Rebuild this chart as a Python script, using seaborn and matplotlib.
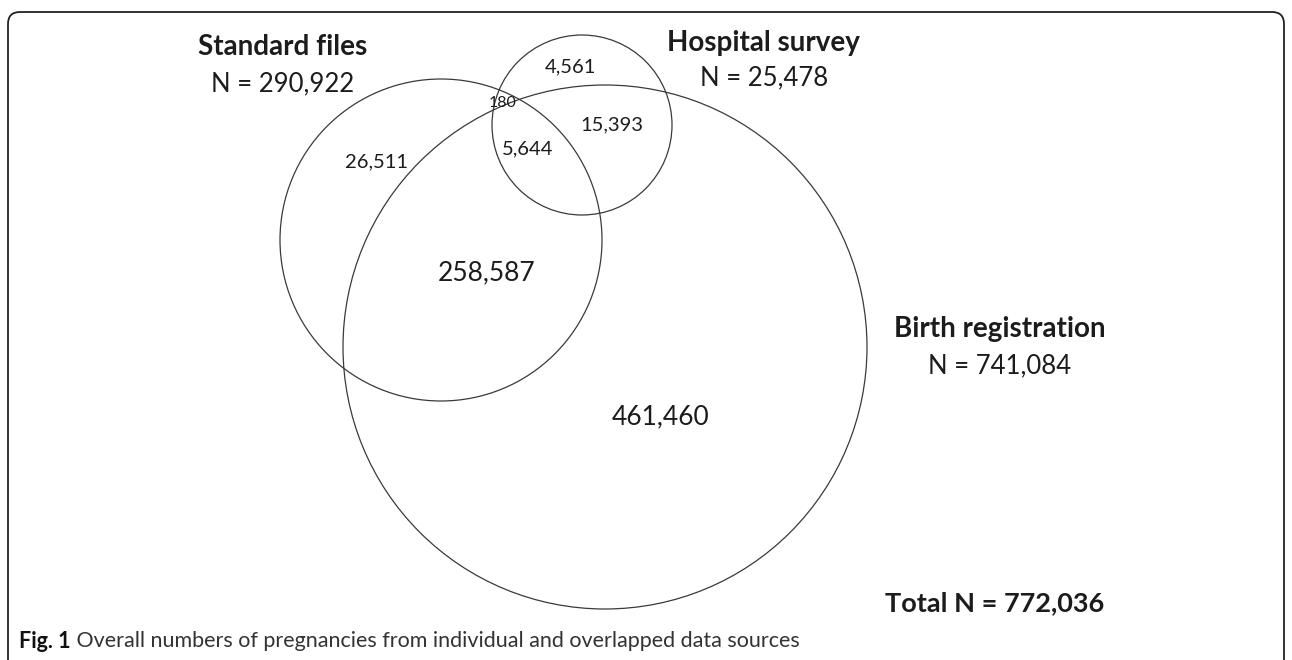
import matplotlib
matplotlib.use("Agg")
import matplotlib.pyplot as plt
from matplotlib.patches import Circle, FancyBboxPatch
import seaborn as sns

# ==================== DATA ====================
set_names = ["Standard files", "Hospital survey", "Birth registration"]
set_totals = [290922, 25478, 741084]

# region counts: only S, only H, only B, S&H, S&B, H&B, all three
region_keys = ["S", "H", "B", "SH", "SB", "HB", "SHB"]
region_counts = [26511, 4561, 461460, 180, 258587, 15393, 5644]

total_n = 772036
caption_bold = "Fig. 1"
caption_text = " Overall numbers of pregnancies from individual and overlapped data sources"

# ==================== LAYOUT (pixels) ====================
circles = {"S": (441, 240, 161), "H": (582, 125, 90), "B": (605, 347, 262)}
name_pos = {"S": (283, 47), "H": (763, 43), "B": (1000, 329)}
n_pos = {"S": (283, 84), "H": (764, 78), "B": (1000, 366)}
region_pos = {"S": (377, 162), "H": (570, 67), "B": (661, 417),
              "SH": (503, 103), "SB": (487, 273), "HB": (612, 125),
              "SHB": (528, 149)}
region_size = {"S": 14.5, "H": 14.5, "B": 19, "SH": 11.5, "SB": 19,
               "HB": 14.5, "SHB": 14.5}

sns.set_theme(style="white")
plt.rcParams["font.family"] = ["Lato", "DejaVu Sans"]

fig = plt.figure(figsize=(12.92, 6.60), dpi=100)
ax = fig.add_axes([0, 0, 1, 1])
ax.set_xlim(0, 1292)
ax.set_ylim(660, 0)
ax.axis("off")

# frame
frame = FancyBboxPatch((8, 12), 1276, 700, boxstyle="round,pad=0,rounding_size=12",
                       fill=False, edgecolor="#222222", linewidth=1.3)
ax.add_patch(frame)

for key in ["S", "H", "B"]:
    cx, cy, r = circles[key]
    ax.add_patch(Circle((cx, cy), r, fill=False, edgecolor="#3a3a3a", linewidth=0.9))

dark = "#1c1c1c"
for key, name, tot in zip(["S", "H", "B"], set_names, set_totals):
    ax.text(*name_pos[key], name, ha="center", va="center", fontsize=20,
            fontweight="bold", color=dark)
    ax.text(*n_pos[key], f"N = {tot:,}", ha="center", va="center", fontsize=18.5,
            color=dark)

for key, cnt in zip(region_keys, region_counts):
    ax.text(*region_pos[key], f"{cnt:,}", ha="center", va="center",
            fontsize=region_size[key], color=dark)

ax.text(995, 603, f"Total N = {total_n:,}", ha="center", va="center", fontsize=19.5,
        fontweight="bold", color=dark)

fb = ax.text(19, 641, caption_bold, ha="left", va="center", fontsize=15.5,
             fontweight="bold", color="#111111")
ax.annotate(caption_text, xy=(1, 0.5), xycoords=fb, ha="left", va="center",
            fontsize=15.5, color="#333333")

fig.savefig("out.png", dpi=100)
